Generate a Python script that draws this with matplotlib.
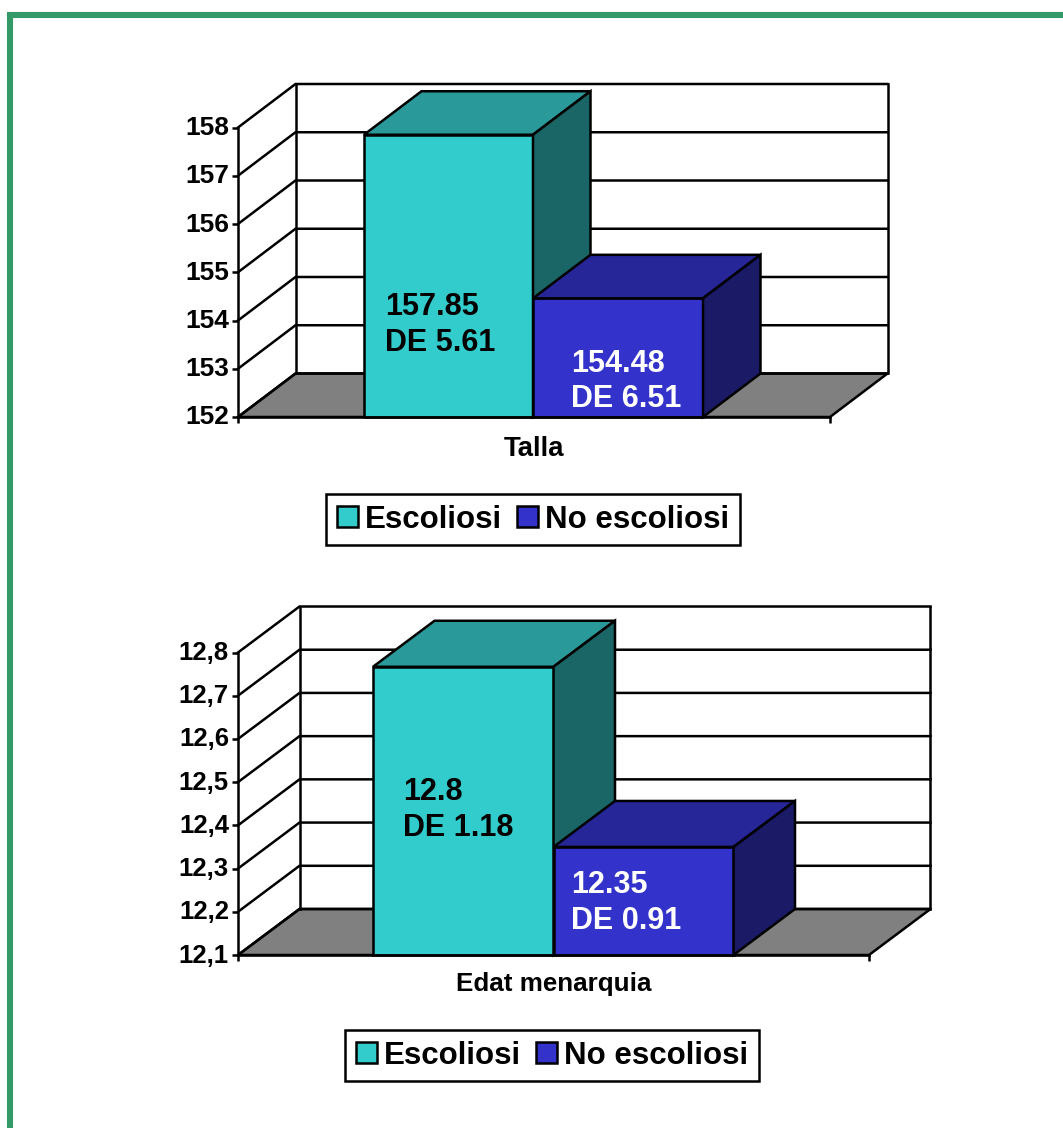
import matplotlib
matplotlib.use("Agg")
import matplotlib.pyplot as plt
from matplotlib.patches import Polygon, Patch, Rectangle
from matplotlib.transforms import ScaledTranslation

plt.rcParams["font.family"] = ["Liberation Sans", "DejaVu Sans"]
plt.rcParams["font.weight"] = "bold"

W, H = 1063, 1128
SERIES = ["Escoliosi", "No escoliosi"]

talla_values = [157.85, 154.46]
talla_ticks = [152, 153, 154, 155, 156, 157, 158]
talla_ticklabels = ["152", "153", "154", "155", "156", "157", "158"]
talla_notes = ["157.85\nDE 5.61", "154.48\nDE 6.51"]

edat_values = [12.767, 12.35]
edat_ticks = [12.1, 12.2, 12.3, 12.4, 12.5, 12.6, 12.7, 12.8]
edat_ticklabels = ["12,1", "12,2", "12,3", "12,4", "12,5", "12,6", "12,7", "12,8"]
edat_notes = ["12.8\nDE 1.18", "12.35\nDE 0.91"]

FRONT = ["#33CCCC", "#3333CC"]
TOP = ["#299999", "#262699"]
SIDE = ["#1A6666", "#1A1A66"]
NOTE_COL = ["black", "white"]
LW = 1.8


def fx(x): return x / W
def fy(y): return 1 - y / H


def chart(box, ticks, labels, values, notes, cat, depth, bar_edges, note_pos, leg_center, tick_fs, cat_fs, cat_pad):
    # box = left, right, y of lowest tick, y of highest tick, all in pixels
    l, r, y0, y1 = box
    ax = fig.add_axes([fx(l), fy(y0), fx(r) - fx(l), fy(y1) - fy(y0)])
    ax.patch.set_visible(False)
    ax.set_xlim(0, 1)
    ax.set_ylim(ticks[0], ticks[-1])
    dx = depth[0] / (r - l)
    dy = depth[1] * (ticks[-1] - ticks[0]) / (y0 - y1)
    base = ticks[0]

    ax.add_patch(Polygon([(0, base), (1, base), (1 + dx, base + dy), (dx, base + dy)],
                         fc="#808080", ec="black", lw=LW, clip_on=False, zorder=1))
    for t in ticks:
        ax.plot([0, dx, 1 + dx], [t, t + dy, t + dy], color="black", lw=LW,
                clip_on=False, zorder=1, solid_joinstyle="miter")
    ax.plot([dx, dx], [base + dy, ticks[-1] + dy], color="black", lw=LW, clip_on=False, zorder=1)
    ax.plot([1 + dx, 1 + dx], [base + dy, ticks[-1] + dy], color="black", lw=LW, clip_on=False, zorder=1)

    for i, v in enumerate(values):
        a, b = (bar_edges[i] - l) / (r - l), (bar_edges[i + 1] - l) / (r - l)
        ax.add_patch(Polygon([(a, base), (b, base), (b, v), (a, v)], fc=FRONT[i], ec="black",
                             lw=LW, clip_on=False, zorder=2 + i, joinstyle="miter"))
        ax.add_patch(Polygon([(a, v), (b, v), (b + dx, v + dy), (a + dx, v + dy)], fc=TOP[i], ec="black",
                             lw=LW, clip_on=False, zorder=2 + i, joinstyle="miter"))
        ax.add_patch(Polygon([(b, base), (b + dx, base + dy), (b + dx, v + dy), (b, v)], fc=SIDE[i], ec="black",
                             lw=LW, clip_on=False, zorder=2 + i, joinstyle="miter"))
        fig.text(fx(note_pos[i][0]), fy(note_pos[i][1]), notes[i], fontsize=22, color=NOTE_COL[i],
                 ha="left", va="center", linespacing=1.25, zorder=10)

    for s in ("top", "right"):
        ax.spines[s].set_visible(False)
    for s in ("left", "bottom"):
        ax.spines[s].set_linewidth(LW)
        ax.spines[s].set_zorder(6)
    ax.set_yticks(ticks, labels, fontsize=tick_fs)
    ax.set_xticks([0, 1], ["", ""])
    ax.tick_params(axis="both", length=4.5, width=LW, pad=2)
    # labels sit a little above their ticks in the original
    up = ScaledTranslation(0, 0.02, fig.dpi_scale_trans)
    for lab in ax.get_yticklabels():
        lab.set_transform(lab.get_transform() + up)
    ax.set_xlabel(cat, fontsize=cat_fs, fontweight="bold", labelpad=cat_pad)

    handles = [Patch(fc=FRONT[i], ec="black", lw=LW, label=SERIES[i]) for i in range(2)]
    leg = fig.legend(handles=handles, loc="center", bbox_to_anchor=(fx(leg_center[0]), fy(leg_center[1])),
                     ncol=2, fontsize=22.5, fancybox=False, framealpha=1, edgecolor="black",
                     handlelength=0.68, handleheight=0.68, handletextpad=0.22, columnspacing=0.48,
                     borderpad=0.33, borderaxespad=0)
    leg.get_frame().set_linewidth(LW)


fig = plt.figure(figsize=(W / 100, H / 100), dpi=100, facecolor="white")

# green page frame, runs off the right and bottom edges
fig.add_artist(Rectangle((fx(10), fy(1200)), fx(1200), fy(15) - fy(1200), fill=False,
                         ec="#339966", lw=4.4, transform=fig.transFigure))

chart((238, 830, 417, 127.5), talla_ticks, talla_ticklabels, talla_values, talla_notes, "Talla",
      (57.5, 43.5), [364, 533, 703], [(385, 325), (571, 381.5)], (533, 519.5), 18.9, 19.8, 7)
chart((238, 869, 955, 652.5), edat_ticks, edat_ticklabels, edat_values, edat_notes, "Edat menarquia",
      (61.5, 46), [373, 553.5, 733.5], [(403, 810), (571, 903)], (552, 1055.5), 18.5, 18.7, 6)

fig.savefig("out.png", dpi=100)
